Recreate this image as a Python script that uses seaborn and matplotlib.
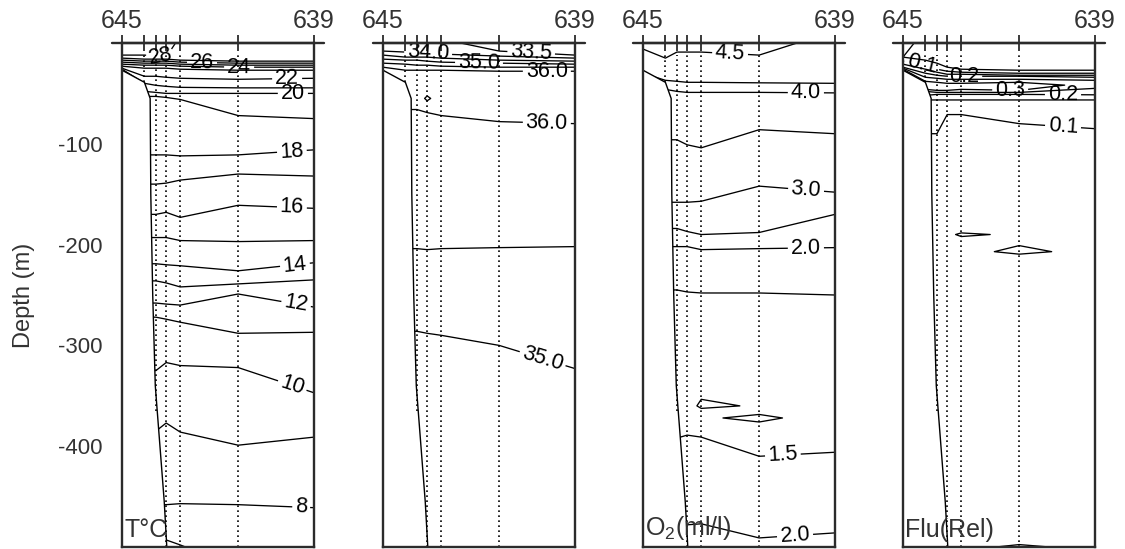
import matplotlib
matplotlib.use("Agg")
import numpy as np
import matplotlib.pyplot as plt
import seaborn as sns

sns.set_style("white")
plt.rcParams['font.family'] = ['Liberation Sans', 'DejaVu Sans']
plt.rcParams['axes.unicode_minus'] = False
plt.rcParams['mathtext.default'] = 'regular'

# ---------------- data ----------------
# grid columns (stations) along the section, 645 -> 639
station_x = [645.0, 644.30, 643.94, 643.62, 643.18, 641.37, 639.0]
station_bottom = [-27, -39, -365, -500, -500, -500, -500]
cast_top = -12

bathy_x = [645.0, 644.30, 644.12, 644.10, 644.04, 643.96, 643.68, 643.60]
bathy_depth = [-27, -39, -55, -150, -250, -340, -455, -500]

# Temperature: depth of each grid row at each station, and value at that node
temp_depth = [
    [0, 0, 0, 0, 0, 0, 0],
    [-12, -12, -13, -14, -3, -3, -3],
    [-15, -16, -16, -16, -17, -18, -18],
    [-17, -18, -18, -18, -19, -20, -20],
    [-19, -20, -20, -20, -21, -22, -22],
    [-21, -22, -22, -22, -23, -24, -24],
    [-23, -25, -25, -25, -26, -27, -27],
    [-25, -33, -33, -34, -35, -36, -35],
    [-26, -40, -42, -43, -44, -44.5, -44.5],
    [-27, -48, -49, -50, -50, -50, -50],
    [-53, -53, -53, -54, -56, -72, -75],
    [-111, -111, -111, -111, -112, -111, -106],
    [-140, -140, -140, -139, -136, -130, -132],
    [-170, -170, -170, -168, -173, -161, -164],
    [-193, -193, -193, -193, -196, -197, -196],
    [-219, -219, -219, -220, -221, -226, -218],
    [-236, -236, -236, -238, -242, -239, -235],
    [-258, -258, -258, -259, -260, -249, -262],
    [-272, -272, -272, -274, -277, -288, -287],
    [-325, -325, -325, -317, -320, -322, -347],
    [-385, -385, -385, -377, -386, -399, -391],
    [-458, -458, -458, -458, -457, -458, -461],
    [-500, -500, -500, -500, -500, -500, -500],
]
temp_value = [
    [28.5, 28.5, 28.4, 28.2, 27.9, 27.6, 27.4],
    [28, 28, 28, 28, 27.8, 27.5, 27.3],
    [27] * 7, [26] * 7, [25] * 7, [24] * 7, [23] * 7, [22] * 7, [21] * 7,
    [20] * 7, [19] * 7, [18] * 7, [17] * 7, [16] * 7, [15] * 7, [14] * 7,
    [13] * 7, [12] * 7, [11] * 7, [10] * 7, [9] * 7, [8] * 7,
    [7.6, 7.6, 7.6, 6.8, 6.95, 7.5, 7.6],
]
temp_levels = list(range(7, 29))
temp_labels = [(28, 643.78, -13), (26, 642.5, -19.6), (24, 641.34, -24),
               (22, 639.84, -35.5), (20, 639.66, -50), (18, 639.69, -108),
               (16, 639.69, -163), (14, 639.6, -219), (12, 639.56, -259),
               (10, 639.66, -338), (8, 639.4, -460)]

# Salinity
sal_depth = [
    [0, 0, 0, 0, 0, 0, 0],
    [-2, -2, -2, -2, -3, -8, -12],
    [-8, -9, -9, -10, -11, -13, -15],
    [-12, -14, -14, -14, -15, -17, -18],
    [-16, -17, -17, -18, -19, -20, -21],
    [-20, -21, -22, -22, -23, -24, -24],
    [-24, -27, -27, -27, -27, -28, -28],
    [-26, -45, -45, -45, -45, -50, -50],
    [-40, -55, -55, -55, -55, -60, -62],
    [-66, -66, -66, -69, -72, -78, -80],
    [-204, -204, -204, -205, -204, -203, -202],
    [-286, -286, -286, -288, -290, -300, -323],
    [-500, -500, -500, -500, -500, -500, -500],
]
sal_value = [
    [33.8, 33.8, 33.8, 33.7, 33.6, 33.3, 33.2],
    [33.9, 33.9, 33.9, 33.8, 33.7, 33.5, 33.5],
    [34.0] * 7, [34.5] * 7, [35.0] * 7, [35.5] * 7, [36.0] * 7,
    [36.2] * 7,
    [36.2, 36.2, 36.2, 36.6, 36.2, 36.2, 36.2],
    [36.0] * 7, [35.5] * 7, [35.0] * 7, [34.8] * 7,
]
sal_levels = [33.5, 34.0, 34.5, 35.0, 35.5, 36.0, 36.5]
sal_labels = [(34.0, 643.59, -10), (33.5, 640.37, -10), (35.0, 642.0, -19.5),
              (36.0, 639.88, -28), (36.0, 639.88, -79), (35.0, 640.0, -312)]

# Oxygen
oxy_depth = [
    [0, 0, 0, 0, 0, 0, 0],
    [-6, -15, -9, -9, -9, -12, -8],
    [-15, -25, -25, -25, -25, -25, -25],
    [-30, -37, -38, -39, -39, -39.5, -40],
    [-46, -46, -48, -49, -49, -49, -49.5],
    [-96, -96, -96, -101, -104, -86, -90],
    [-158, -158, -158, -158, -157, -142, -148],
    [-184, -184, -184, -187, -190, -188, -170],
    [-202, -202, -202, -202, -205, -204, -203],
    [-245, -245, -245, -247, -248, -248, -250],
    [-347] * 7,
    [-360] * 7,
    [-365] * 7,
    [-372] * 7,
    [-382] * 7,
    [-392, -392, -392, -389, -391, -410, -406],
    [-480, -480, -480, -478, -477, -491, -486],
    [-500] * 7,
]
oxy_value = [
    [4.3, 4.3, 4.4, 4.4, 4.4, 4.4, 4.6],
    [4.5, 4.5, 4.5, 4.5, 4.5, 4.5, 4.7],
    [4.7] * 7, [4.5] * 7, [4.0] * 7, [3.5] * 7, [3.0] * 7, [2.5] * 7,
    [2.0] * 7, [1.5] * 7,
    [1.2] * 7,
    [1.2, 1.2, 1.2, 1.45, 0.8, 1.1, 1.2],
    [1.2] * 7,
    [1.2, 1.2, 1.2, 1.2, 1.12, 0.8, 1.45],
    [1.3] * 7,
    [1.5] * 7, [2.0] * 7, [2.1] * 7,
]
oxy_levels = [1.0, 1.5, 2.0, 2.5, 3.0, 3.5, 4.0, 4.5]
oxy_labels = [(4.5, 642.28, -11), (4.0, 639.91, -49.4), (3.0, 639.91, -148),
              (2.0, 639.91, -203), (1.5, 640.63, -408), (2.0, 640.25, -488)]

# Fluorescence
flu_depth = [
    [0, 0, 0, 0, 0, 0, 0],
    [-14, -17, -20, -24, -26, -27, -27],
    [-18, -22, -26, -28, -29, -30, -30],
    [-21, -26, -29, -31, -31, -32, -32],
    [-24, -30, -32, -33, -33, -33, -34],
    [-25, -34, -35, -36, -36, -36, -37],
    [-26, -38, -39, -40, -40, -39, -39],
    [-27, -42, -42, -43, -43, -43, -41],
    [-28, -46, -47, -47, -46, -47, -43],
    [-29, -48, -49, -49, -49, -49, -45],
    [-30, -52, -51, -51, -51, -51, -51.4],
    [-35, -56.5, -56.5, -56.5, -56.5, -56.5, -56.5],
    [-60, -90, -90, -71, -71, -80, -85],
    [-186] * 7,
    [-190] * 7,
    [-195] * 7,
    [-207] * 7,
    [-212] * 7,
    [-494] * 7,
    [-500] * 7,
]
flu_value = [
    [0.06, 0.04, 0.03, 0.03, 0.03, 0.03, 0.03],
    [0.05] * 7, [0.1] * 7, [0.15] * 7, [0.2] * 7, [0.25] * 7,
    [0.3, 0.3, 0.3, 0.3, 0.3, 0.3, 0.27],
    [0.33, 0.33, 0.33, 0.33, 0.33, 0.33, 0.28],
    [0.3, 0.3, 0.3, 0.3, 0.3, 0.3, 0.27],
    [0.25] * 7, [0.2] * 7, [0.15] * 7, [0.1] * 7,
    [0.07] * 7,
    [0.07, 0.07, 0.07, 0.07, 0.12, 0.08, 0.07],
    [0.07] * 7,
    [0.07, 0.07, 0.07, 0.07, 0.06, 0.13, 0.06],
    [0.07] * 7,
    [0.07] * 7,
    [0.07, 0.07, 0.07, 0.07, 0.07, 0.12, 0.07],
]
flu_levels = [0.05, 0.1, 0.15, 0.2, 0.25, 0.3]
flu_labels = [(0.1, 644.41, -21.5), (0.2, 643.09, -33), (0.3, 641.65, -46.8),
              (0.2, 640.0, -51.2), (0.1, 640.0, -83)]

top_tick_labels = ['645', '', '', '', '', '', '639']
depth_ticks = [-100, -200, -300, -400]

panels = [
    (temp_depth, temp_value, temp_levels, temp_labels, '%d', 'T°C'),
    (sal_depth, sal_value, sal_levels, sal_labels, '%.1f', ''),
    (oxy_depth, oxy_value, oxy_levels, oxy_labels, '%.1f', 'O$_2$(ml/l)'),
    (flu_depth, flu_value, flu_levels, flu_labels, '%.1f', 'Flu(Rel)'),
]

# ---------------- figure ----------------
W, H = 1125, 549
fig = plt.figure(figsize=(W / 100, H / 100), dpi=100)
lefts = [122, 383, 643, 903]
spine_col = '#2b2b2b'
text_col = '#333333'
line_kw = dict(colors='black', linewidths=0.95, zorder=2)

for i, (dep, val, levels, labels, fmt, name) in enumerate(panels):
    ax = fig.add_axes([lefts[i] / W, 2 / H, 192 / W, 504 / H])
    ax.set_xlim(645, 639)
    ax.set_ylim(-500, 0)

    Y = np.array(dep, dtype=float)
    Z = np.array(val, dtype=float)
    X = np.tile(np.array(station_x, dtype=float), (Y.shape[0], 1))

    lab_levels = sorted(set(l for l, _, _ in labels))
    other = [l for l in levels if l not in lab_levels]
    if other:
        ax.contour(X, Y, Z, levels=other, **line_kw)
    for lev in lab_levels:
        cs = ax.contour(X, Y, Z, levels=[lev], **line_kw)
        pts = [(lx, ly) for l, lx, ly in labels if l == lev]
        cs.clabel(levels=[lev], manual=pts, inline=True, inline_spacing=3,
                  fmt=fmt, fontsize=15.5, colors='black')

    # sea floor
    ax.fill(list(bathy_x) + [645.0], list(bathy_depth) + [-500.0],
            color='white', lw=0, zorder=3)
    sns.lineplot(x=bathy_x, y=bathy_depth, sort=False, estimator=None,
                 color='black', lw=1.0, ax=ax, zorder=4)
    ax.vlines(station_x[1:-1], station_bottom[1:-1], cast_top, colors='black',
              linestyles=(0, (1, 2)), lw=1.2, zorder=4)

    # axes decoration
    for s in ax.spines.values():
        s.set_color(spine_col)
        s.set_linewidth(1.7)
        s.set_zorder(6)
    ax.plot([-0.05, 1.05], [1, 1], transform=ax.transAxes, clip_on=False,
            color=spine_col, lw=1.7, zorder=7)
    ax.xaxis.tick_top()
    ax.set_xticks(station_x)
    ax.set_xticklabels(top_tick_labels)
    ax.tick_params(axis='x', direction='inout', length=12, width=1.3, pad=1,
                   labelsize=18, colors=spine_col, labelcolor=text_col)
    ax.set_xlabel('')
    if i == 0:
        ax.set_yticks(depth_ticks)
        ax.set_yticklabels([str(t) for t in depth_ticks])
        ax.tick_params(axis='y', direction='out', length=10, width=1.3, pad=4,
                       labelsize=16, colors=spine_col, labelcolor=text_col)
        ax.set_ylabel('Depth (m)', fontsize=17, color=text_col)
        ax.yaxis.set_label_coords(-0.455, 0.5)
    else:
        ax.set_yticks([])
        ax.set_ylabel('')
    if name:
        ax.text(0.012, 0.01, name, transform=ax.transAxes, fontsize=18,
                ha='left', va='bottom', color=text_col, zorder=8)

fig.savefig('out.png', dpi=100)
